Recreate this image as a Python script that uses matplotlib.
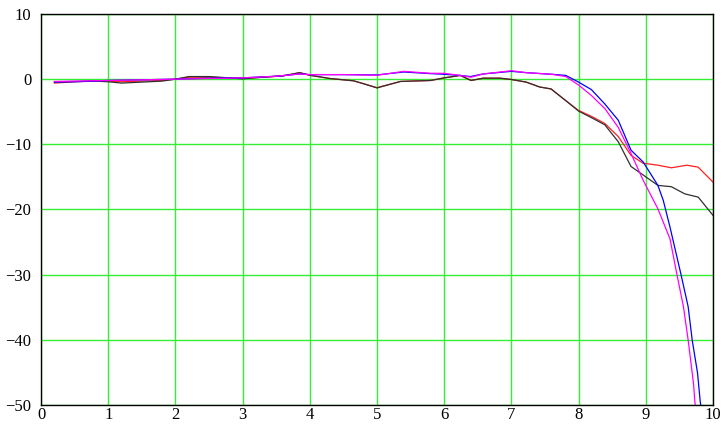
import matplotlib
matplotlib.use('Agg')
import matplotlib.pyplot as plt

# 데이터
x_black = [0.2, 0.5, 0.8, 1.0, 1.2, 1.5, 1.8, 2.0, 2.2, 2.5, 2.8, 3.0, 3.3, 3.6, 3.85,
           4.0, 4.3, 4.65, 4.8, 5.0, 5.35, 5.8, 6.0, 6.24, 6.4, 6.58, 6.83, 7.0, 7.22,
           7.42, 7.59, 7.81, 8.0, 8.19, 8.39, 8.59, 8.78, 8.96, 9.18, 9.38, 9.58, 9.78, 10.0]
y_black = [-0.4, -0.35, -0.3, -0.4, -0.6, -0.45, -0.3, 0.0, 0.4, 0.4, 0.2, 0.05, 0.3, 0.5, 1.0,
           0.6, 0.1, -0.25, -0.7, -1.35, -0.35, -0.2, 0.2, 0.57, -0.2, 0.15, 0.15, -0.05, -0.45,
           -1.2, -1.5, -3.3, -4.9, -5.9, -7.0, -9.6, -13.4, -14.7, -16.3, -16.5, -17.6, -18.1, -20.9]

x_red = [0.2, 0.5, 0.8, 1.0, 1.2, 1.5, 1.8, 2.0, 2.2, 2.5, 2.8, 3.0, 3.3, 3.6, 3.85,
         4.0, 4.3, 4.65, 4.8, 5.0, 5.35, 5.8, 6.0, 6.24, 6.4, 6.58, 6.83, 7.0, 7.22,
         7.42, 7.59, 7.81, 8.0, 8.19, 8.39, 8.59, 8.78, 8.96, 9.18, 9.38, 9.61, 9.78, 10.0]
y_red = [-0.6, -0.4, -0.3, -0.3, -0.4, -0.3, -0.2, 0.0, 0.3, 0.3, 0.2, 0.1, 0.3, 0.5, 1.0,
         0.6, 0.1, -0.25, -0.7, -1.3, -0.35, -0.2, 0.2, 0.57, -0.2, 0.15, 0.15, -0.05, -0.45,
         -1.2, -1.5, -3.3, -4.8, -5.7, -6.8, -8.8, -11.7, -12.9, -13.2, -13.6, -13.2, -13.5, -15.8]

x_blue = [0.2, 0.5, 1.0, 1.5, 2.0, 2.5, 3.0, 3.5, 3.85, 4.0, 4.5, 5.0, 5.4, 5.8, 6.0,
          6.24, 6.39, 6.58, 7.0, 7.22, 7.67, 7.81, 8.0, 8.19, 8.39, 8.59, 8.78, 8.96,
          9.18, 9.26, 9.36, 9.52, 9.63, 9.69, 9.77, 9.81, 9.85]
y_blue = [-0.45, -0.4, -0.2, -0.1, 0.0, 0.15, 0.2, 0.45, 0.8, 0.7, 0.7, 0.65, 1.1, 0.85, 0.75,
          0.57, 0.4, 0.8, 1.2, 1.0, 0.7, 0.57, -0.45, -1.6, -3.8, -6.3, -10.9, -12.7,
          -16.3, -18.6, -22.7, -29.8, -34.9, -40.0, -45.1, -49.5, -52.0]

x_magenta = [0.2, 0.5, 1.0, 1.5, 2.0, 2.5, 3.0, 3.5, 3.85, 4.0, 4.5, 5.0, 5.4, 5.8, 6.0,
             6.24, 6.4, 6.58, 7.0, 7.22, 7.6, 7.81, 8.0, 8.19, 8.39, 8.59, 8.78, 8.96,
             9.18, 9.36, 9.46, 9.56, 9.63, 9.71, 9.73, 9.76]
y_magenta = [-0.35, -0.3, -0.2, -0.1, 0.0, 0.1, 0.2, 0.45, 0.8, 0.7, 0.7, 0.6, 1.2, 0.9, 0.9,
             0.57, 0.3, 0.8, 1.3, 1.0, 0.75, 0.4, -0.9, -2.5, -4.5, -7.4, -11.4, -15.5,
             -19.9, -24.5, -29.8, -34.9, -40.0, -46.7, -49.5, -52.0]

x_ticks = [0, 1, 2, 3, 4, 5, 6, 7, 8, 9, 10]
y_ticks = [-50, -40, -30, -20, -10, 0, 10]

plt.rcParams['font.family'] = ['Liberation Serif', 'DejaVu Serif']

fig = plt.figure(figsize=(7.24, 4.24), dpi=100)
ax = fig.add_axes([41 / 724, 19 / 424, 672 / 724, 391 / 424])

ax.plot(x_red, y_red, color='#ff2020', lw=0.9)
ax.plot(x_black, y_black, color='#303030', lw=0.9)
ax.plot(x_blue, y_blue, color='#0000ff', lw=0.9)
ax.plot(x_magenta, y_magenta, color='#ff00ff', lw=0.9)

ax.set_xlim(0, 10)
ax.set_ylim(-50, 10)
ax.set_xticks(x_ticks)
ax.set_yticks(y_ticks)
ax.grid(True, color='#33ee33', lw=1.0)
ax.set_axisbelow(True)
ax.tick_params(length=0, labelsize=12)
ax.tick_params(axis='x', pad=1.5)
ax.tick_params(axis='y', pad=7)
for s in ax.spines.values():
    s.set_color('black')
    s.set_linewidth(1.0)

fig.savefig('out.png', dpi=100)
